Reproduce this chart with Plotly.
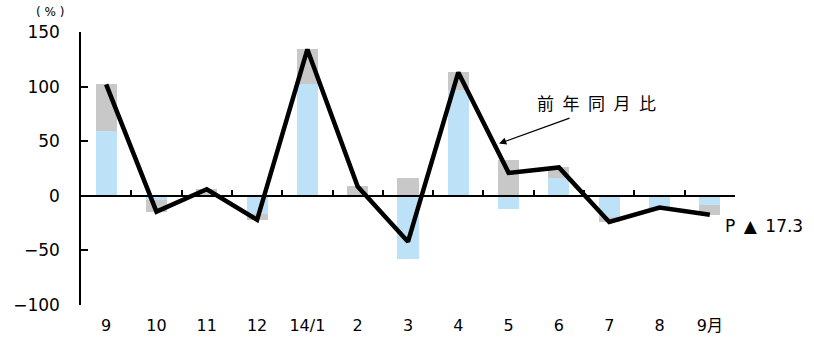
import plotly.graph_objects as go

categories = ["9", "10", "11", "12", "14/1", "2", "3", "4", "5", "6", "7", "8", "9月"]
blue_vals = [59, -4, 0, -17, 102, -0.5, -58, 97, -12, 16, -19, -10.5, -8]
gray_vals = [43, -10.5, 6, -5, 32, 9, 16, 16, 33, 10, -5, -0.3, -9.3]
yoy_vals = [102, -14.5, 6, -22, 134, 8.5, -42, 113, 21, 26, -24, -10.8, -17.3]
y_ticks = [-100, -50, 0, 50, 100, 150]

xs = list(range(len(categories)))
FONT = "DejaVu Sans, Noto Sans CJK JP"

fig = go.Figure()
fig.add_trace(go.Bar(x=xs, y=blue_vals, marker=dict(color="#BDE1F7", line=dict(width=0)),
                     width=0.42, showlegend=False))
fig.add_trace(go.Bar(x=xs, y=gray_vals, marker=dict(color="#C8C8C8", line=dict(width=0)),
                     width=0.42, showlegend=False))
fig.add_trace(go.Scatter(x=xs, y=yoy_vals, mode="lines", xaxis="x2",
                         line=dict(color="black", width=4.5), showlegend=False))

fig.update_layout(
    width=814, height=339,
    margin=dict(l=81, r=79, t=32, b=34, autoexpand=False),
    paper_bgcolor="white", plot_bgcolor="white",
    barmode="relative", bargap=0,
    font=dict(family=FONT, size=16, color="black"),
    xaxis=dict(range=[-0.5, len(categories) - 0.5], tickvals=xs, ticktext=categories,
               showline=False, showgrid=False, zeroline=False, ticks="",
               automargin=False, ticklabelstandoff=9, tickfont=dict(size=16)),
    xaxis2=dict(matches="x", overlaying="x", anchor="free", position=0.4,
                showline=True, linecolor="black", linewidth=1.5,
                tickvals=[i + 0.5 for i in xs], ticks="inside", ticklen=5,
                tickcolor="black", tickwidth=1.5, automargin=False,
                showticklabels=False, showgrid=False, zeroline=False),
    yaxis=dict(range=[-100, 150], tickvals=y_ticks, showline=True, linecolor="black",
               linewidth=1.5, ticks="inside", ticklen=7, tickcolor="black", tickwidth=1.5,
               showgrid=False, zeroline=False, ticklabelstandoff=16, automargin=False,
               tickfont=dict(size=17)),
)

fig.add_annotation(x=7.81, y=47.8, xref="x2", yref="y", text="", showarrow=True,
                   ax=72, ay=-26, arrowhead=2, arrowsize=1.2, arrowwidth=1.2,
                   arrowcolor="black")
fig.add_annotation(x=9.74, y=85.4, xref="x2", yref="y", text="前\u2002年\u2002同\u2002月\u2002比",
                   showarrow=False, font=dict(family="Noto Sans CJK JP", size=17))
fig.add_annotation(x=12.26, y=-28.1, xref="x2", yref="y", text="P\u2002▲\u200217.3",
                   showarrow=False, xanchor="left", font=dict(size=17))
fig.add_annotation(x=-0.07, y=1.073, xref="paper", yref="paper", text="( % )",
                   showarrow=False, xanchor="left", yanchor="middle", borderpad=0,
                   font=dict(size=12))

fig.write_html("out.html")
